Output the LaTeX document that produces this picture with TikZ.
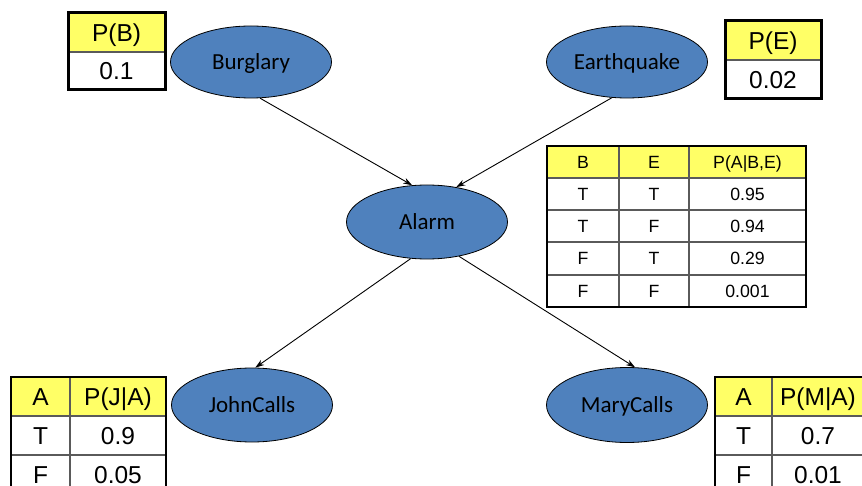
\documentclass[tikz,border=0pt]{standalone}
\usepackage{fontspec}
\setmainfont{Liberation Sans}
\newfontfamily\calfont{Carlito}
\usetikzlibrary{shapes.geometric,arrows.meta}
\definecolor{nodeblue}{RGB}{79,129,189}
\definecolor{hdryellow}{RGB}{255,255,102}
\definecolor{gridgray}{RGB}{90,90,90}
\tikzset{
  bnode/.style={ellipse, draw=black, line width=0.8pt, fill=nodeblue, minimum width=161pt, minimum height=72pt, inner sep=0pt, text height=15pt, text depth=0pt, font=\calfont\fontsize{23}{27}\selectfont},
  edge/.style={line width=0.9pt, -{Stealth[length=9pt,width=6pt]}},
  bigtxt/.style={inner sep=0pt, text height=17.5pt, text depth=0pt, font=\fontsize{24.5}{28}\selectfont},
  smalltxt/.style={inner sep=0pt, text height=12.7pt, text depth=0pt, font=\fontsize{17.7}{21}\selectfont},
  outer/.style={draw=black, line width=2.2pt},
  thickouter/.style={draw=black, line width=3pt},
  inner/.style={draw=gridgray, line width=1.2pt},
}
\begin{document}
\begin{tikzpicture}[x=1pt,y=-1pt]
\useasboundingbox (0,0) rectangle (862,486);
\clip (0,0) rectangle (862,486);
\fill[white] (0,0) rectangle (862,486);

% Nodes
\node[bnode] (B) at (251,62) {Burglary};
\node[bnode] (E) at (627,62) {Earthquake};
\node[bnode, minimum height=74pt] (A) at (427,222) {Alarm};
\node[bnode, minimum height=74pt] (J) at (252,405) {JohnCalls};
\node[bnode, minimum height=75pt] (M) at (627,405) {MaryCalls};

% Edges
\draw[edge] (B.-76) -- (A.112);
\draw[edge] (E.-113) -- (A.50);
\draw[edge] (A.-114) -- (J.85);
\draw[edge] (A.-47) -- (M.78);

% P(B) table
\fill[hdryellow] (68,13) rectangle (165,52);
\draw[inner] (68,52) -- (165,52);
\draw[thickouter] (68,13) rectangle (165,90);
\node[bigtxt] (pbh) at (116.5,32.5) {P(B)};
\node[bigtxt] (pbv) at (116.5,71) {0.1};

% P(E) table
\fill[hdryellow] (725,21) rectangle (821,60);
\draw[inner] (725,60) -- (821,60);
\draw[thickouter] (725,21) rectangle (821,99);
\node[bigtxt] (peh) at (773,40.5) {P(E)};
\node[bigtxt] (pev) at (773,79.5) {0.02};

% Alarm CPT
\fill[hdryellow] (547,146) rectangle (806,178);
\foreach \y in {178,210,242,275} \draw[inner] (547,\y) -- (806,\y);
\foreach \x in {619,689} \draw[inner] (\x,146) -- (\x,307);
\draw[outer] (547,146) rectangle (806,307);
\node[smalltxt] (ah1) at (583,162) {B};
\node[smalltxt] (ah2) at (654,162) {E};
\node[smalltxt] (ah3) at (747.5,162) {P(A|B,E)};
\node[smalltxt] (a11) at (583,194) {T};
\node[smalltxt] (a12) at (654,194) {T};
\node[smalltxt] (a13) at (747.5,194) {0.95};
\node[smalltxt] (a21) at (583,226) {T};
\node[smalltxt] (a22) at (654,226) {F};
\node[smalltxt] (a23) at (747.5,226) {0.94};
\node[smalltxt] (a31) at (583,258.5) {F};
\node[smalltxt] (a32) at (654,258.5) {T};
\node[smalltxt] (a33) at (747.5,258.5) {0.29};
\node[smalltxt] (a41) at (583,291) {F};
\node[smalltxt] (a42) at (654,291) {F};
\node[smalltxt] (a43) at (747.5,291) {0.001};

% JohnCalls table
\fill[hdryellow] (11,377) rectangle (166,416);
\foreach \y in {416,455} \draw[inner] (11,\y) -- (166,\y);
\draw[inner] (70,377) -- (70,494);
\draw[outer] (11,377) rectangle (166,494);
\node[bigtxt] (jh1) at (40.5,396.5) {A};
\node[bigtxt] (jh2) at (118,396.5) {P(J|A)};
\node[bigtxt] (j11) at (40.5,435.5) {T};
\node[bigtxt] (j12) at (118,435.5) {0.9};
\node[bigtxt] (j21) at (40.5,474.5) {F};
\node[bigtxt] (j22) at (118,474.5) {0.05};

% MaryCalls table
\fill[hdryellow] (715,377) rectangle (872,416);
\foreach \y in {416,455} \draw[inner] (715,\y) -- (872,\y);
\draw[inner] (772,377) -- (772,494);
\draw[outer] (715,377) rectangle (872,494);
\node[bigtxt] (mh1) at (743.5,396.5) {A};
\node[bigtxt] (mh2) at (818,396.5) {P(M|A)};
\node[bigtxt] (m11) at (743.5,435.5) {T};
\node[bigtxt] (m12) at (818,435.5) {0.7};
\node[bigtxt] (m21) at (743.5,474.5) {F};
\node[bigtxt] (m22) at (818,474.5) {0.01};
\end{tikzpicture}
\end{document}
